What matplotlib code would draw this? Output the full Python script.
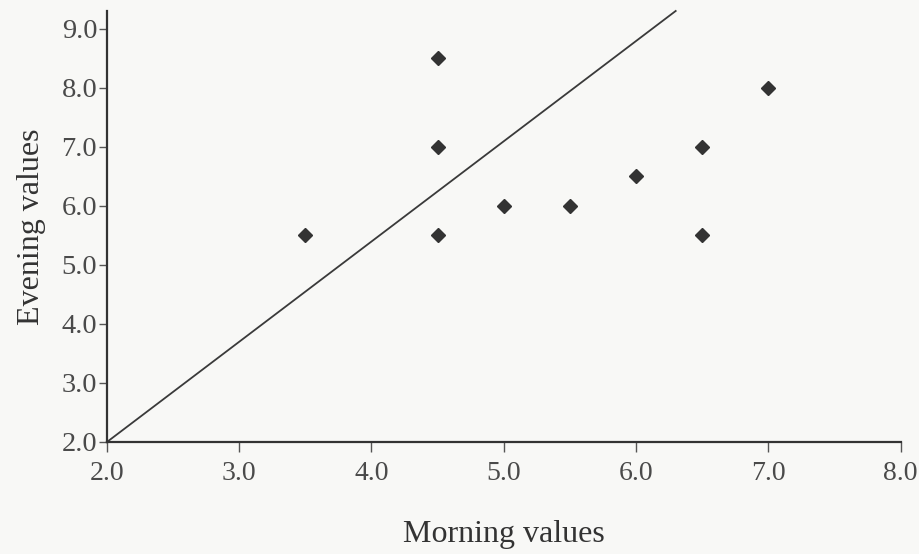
import matplotlib.pyplot as plt

plt.rcParams['font.family'] = ['Liberation Serif', 'DejaVu Serif']

# morning vs evening readings
morning = [3.5, 4.5, 4.5, 4.5, 5.0, 5.5, 6.0, 6.5, 6.5, 7.0]
evening = [5.5, 8.5, 7.0, 5.5, 6.0, 6.0, 6.5, 7.0, 5.5, 8.0]

# reference line as drawn in the original
line_x = [2.0, 6.3]
line_y = [2.0, 9.3]

xticks = [2.0, 3.0, 4.0, 5.0, 6.0, 7.0, 8.0]
yticks = [2.0, 3.0, 4.0, 5.0, 6.0, 7.0, 8.0, 9.0]

fig = plt.figure(figsize=(9.19, 5.54), dpi=100, facecolor="#f8f8f6")
ax = fig.add_axes([0.1164, 0.2022, 0.8635, 0.778])
ax.set_facecolor("#f8f8f6")

ax.plot(line_x, line_y, color="#3a3a3a", linewidth=1.3, clip_on=False)
ax.plot(morning, evening, linestyle="none", marker="D", markersize=7.5,
        color="#333333")

ax.set_xlim(2.0, 8.0)
ax.set_ylim(2.0, 9.3)
ax.set_xticks(xticks)
ax.set_yticks(yticks)
ax.set_xticklabels([f"{v:.1f}" for v in xticks])
ax.set_yticklabels([f"{v:.1f}" for v in yticks])

for side in ["top", "right"]:
    ax.spines[side].set_visible(False)
for side in ["left", "bottom"]:
    ax.spines[side].set_linewidth(1.6)
    ax.spines[side].set_color("#333333")

ax.tick_params(axis="x", direction="out", length=7, width=1.0, color="#555555",
               labelsize=20, labelcolor="#4a4a4a", pad=7)
ax.tick_params(axis="y", direction="out", length=6, width=1.0, color="#555555",
               labelsize=20.5, labelcolor="#4a4a4a", pad=1)

ax.set_xlabel("Morning values", fontsize=23, color="#333333", labelpad=24)
ax.set_ylabel("Evening values", fontsize=23, color="#333333", labelpad=11)

plt.savefig("out.png", dpi=100, facecolor=fig.get_facecolor())
